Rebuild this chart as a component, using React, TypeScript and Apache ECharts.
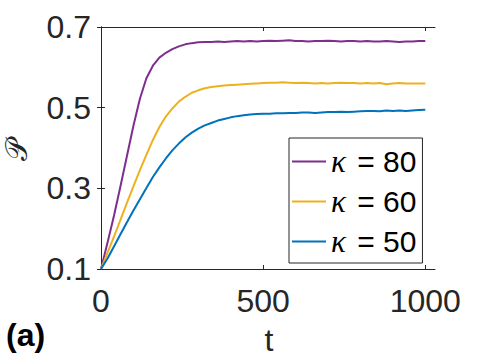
import React, { useEffect, useRef } from "react";
import * as echarts from "echarts";

const tValues = [
  0, 20, 40, 60, 80, 100, 120, 140, 160, 180, 200, 220, 240, 260, 280, 300, 320, 340, 360, 380,
  400, 420, 440, 460, 480, 500, 520, 540, 560, 580, 600, 620, 640, 660, 680, 700, 720, 740, 760, 780,
  800, 820, 840, 860, 880, 900, 920, 940, 960, 980, 1000,
];

const kappa80 = [
  0.100, 0.165, 0.232, 0.305, 0.380, 0.455, 0.522, 0.573, 0.604, 0.624, 0.636, 0.645, 0.652, 0.657, 0.660, 0.662, 0.663, 0.663, 0.664, 0.663,
  0.664, 0.665, 0.664, 0.665, 0.664, 0.665, 0.666, 0.665, 0.666, 0.667, 0.665, 0.665, 0.664, 0.665, 0.665, 0.666, 0.665, 0.664, 0.665, 0.665,
  0.664, 0.665, 0.664, 0.664, 0.665, 0.664, 0.663, 0.664, 0.664, 0.665, 0.665,
];

const kappa60 = [
  0.100, 0.140, 0.180, 0.222, 0.264, 0.305, 0.345, 0.383, 0.420, 0.452, 0.478, 0.498, 0.515, 0.527, 0.537, 0.543, 0.548, 0.551, 0.553, 0.555,
  0.556, 0.557, 0.558, 0.559, 0.560, 0.561, 0.562, 0.562, 0.563, 0.562, 0.561, 0.562, 0.561, 0.560, 0.561, 0.560, 0.561, 0.562, 0.561, 0.561,
  0.560, 0.561, 0.560, 0.561, 0.558, 0.560, 0.561, 0.560, 0.560, 0.560, 0.560,
];

const kappa50 = [
  0.100, 0.126, 0.156, 0.186, 0.216, 0.245, 0.273, 0.301, 0.328, 0.352, 0.374, 0.394, 0.411, 0.426, 0.438, 0.448, 0.456, 0.462, 0.468, 0.472,
  0.476, 0.479, 0.481, 0.483, 0.484, 0.485, 0.485, 0.486, 0.486, 0.487, 0.487, 0.488, 0.488, 0.487, 0.488, 0.489, 0.489, 0.490, 0.489, 0.490,
  0.491, 0.492, 0.492, 0.491, 0.493, 0.492, 0.493, 0.492, 0.493, 0.494, 0.495,
];

const xTicks = [0, 500, 1000];
const yTicks = [0.1, 0.3, 0.5, 0.7];
const seriesNames = ["80", "60", "50"];
const seriesColors = ["#7E2F8E", "#EDB120", "#0072BD"];
const seriesData = [kappa80, kappa60, kappa50];

const AXIS_COLOR = "#262626";
const FONT = "Liberation Sans, Arial, Helvetica, sans-serif";

export default function App() {
  const ref = useRef<HTMLDivElement>(null);

  useEffect(() => {
    if (!ref.current) return;
    const chart = echarts.init(ref.current, null, { renderer: "svg" });

    const axisLine = { show: true, lineStyle: { color: AXIS_COLOR, width: 1 } };

    chart.setOption({
      animation: false,
      backgroundColor: "#ffffff",
      grid: { left: 101, right: 43, top: 27, bottom: 90 },
      xAxis: [
        {
          type: "value",
          min: 0,
          max: 1030,
          axisLine,
          axisTick: { show: true, inside: true, length: 4, customValues: xTicks, lineStyle: { color: AXIS_COLOR } },
          axisLabel: {
            show: true,
            customValues: xTicks,
            margin: 16,
            fontSize: 32,
            fontFamily: FONT,
            color: AXIS_COLOR,
            formatter: (v: number) => String(v),
          },
          splitLine: { show: false },
        },
        {
          type: "value",
          position: "top",
          min: 0,
          max: 1030,
          axisLine,
          axisTick: { show: true, inside: true, length: 4, customValues: xTicks, lineStyle: { color: AXIS_COLOR } },
          axisLabel: { show: false },
          splitLine: { show: false },
        },
      ],
      yAxis: [
        {
          type: "value",
          min: 0.1,
          max: 0.7,
          axisLine,
          axisTick: { show: true, inside: true, length: 4, customValues: yTicks, lineStyle: { color: AXIS_COLOR } },
          axisLabel: {
            show: true,
            customValues: yTicks,
            margin: 10,
            fontSize: 32,
            fontFamily: FONT,
            color: AXIS_COLOR,
            formatter: (v: number) => v.toFixed(1),
          },
          splitLine: { show: false },
        },
        {
          type: "value",
          position: "right",
          min: 0.1,
          max: 0.7,
          axisLine,
          axisTick: { show: true, inside: true, length: 4, customValues: yTicks, lineStyle: { color: AXIS_COLOR } },
          axisLabel: { show: false },
          splitLine: { show: false },
        },
      ],
      legend: {
        orient: "vertical",
        left: 289,
        top: 138,
        padding: [8, 6, 6, 3],
        itemGap: 9,
        itemWidth: 34,
        itemHeight: 2,
        backgroundColor: "#ffffff",
        borderColor: AXIS_COLOR,
        borderWidth: 1,
        borderRadius: 0,
        data: seriesNames.map((name) => ({ name, icon: "rect" })),
        formatter: (name: string) => `{k|κ}{e| = ${name}}`,
        textStyle: {
          color: "#000000",
          fontSize: 30,
          lineHeight: 29,
          rich: {
            k: { fontFamily: "Liberation Serif", fontStyle: "italic", fontSize: 31, color: "#000000", lineHeight: 29, padding: [0, 3, 0, 0] },
            e: { fontFamily: FONT, fontSize: 30, color: "#000000", lineHeight: 29 },
          },
        },
      },
      series: seriesNames.map((name, i) => ({
        name,
        type: "line",
        xAxisIndex: 0,
        yAxisIndex: 0,
        symbol: "none",
        showSymbol: false,
        color: seriesColors[i],
        itemStyle: { color: seriesColors[i] },
        lineStyle: { color: seriesColors[i], width: 2 },
        data: tValues.map((t, j) => [t, seriesData[i][j]]),
      })),
      graphic: [
        {
          type: "text",
          x: 269,
          y: 340,
          style: { text: "t", fontSize: 32, lineHeight: 28, fontFamily: FONT, fill: AXIS_COLOR, align: "center", verticalAlign: "middle" },
        },
        {
          type: "text",
          x: 6,
          y: 335,
          style: { text: "(a)", fontSize: 32, fontWeight: "bold", fontFamily: FONT, fill: "#000000", align: "left", verticalAlign: "middle" },
        },
        {
          type: "text",
          x: 16,
          y: 150,
          rotation: Math.PI / 2,
          style: { text: "𝒫", fontSize: 30, fontFamily: "DejaVu Sans, DejaVu Serif", fill: AXIS_COLOR, align: "center", verticalAlign: "middle" },
        },
      ],
    });

    return () => chart.dispose();
  }, []);

  return <div ref={ref} style={{ position: "fixed", left: 0, top: 0, width: 478, height: 359 }} />;
}
